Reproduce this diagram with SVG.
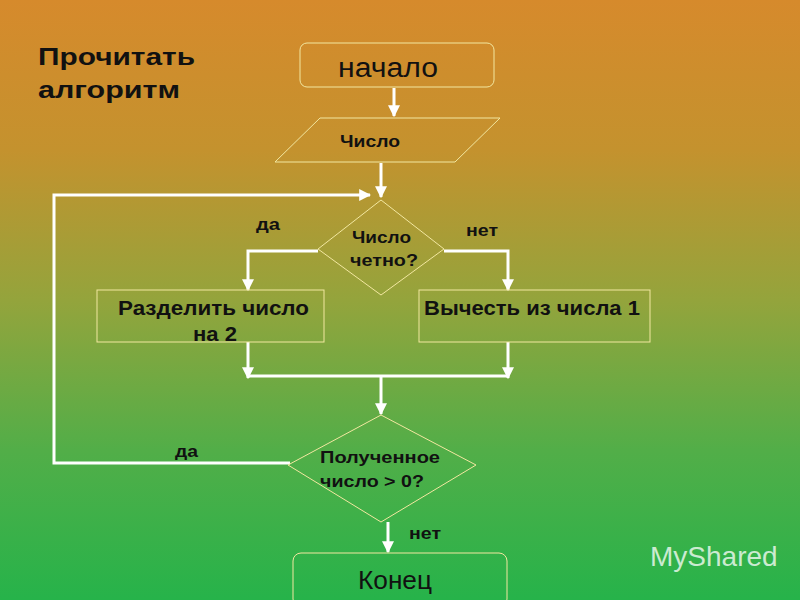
<svg xmlns="http://www.w3.org/2000/svg" width="800" height="600" viewBox="0 0 800 600">
<defs>
<linearGradient id="bg" x1="0" y1="0" x2="0" y2="1">
<stop offset="0" stop-color="#d68a2c"/>
<stop offset="0.25" stop-color="#c4922e"/>
<stop offset="0.5" stop-color="#94a43c"/>
<stop offset="0.75" stop-color="#52ae48"/>
<stop offset="1" stop-color="#26b34a"/>
</linearGradient>
<marker id="ah" viewBox="0 0 10 10" refX="9" refY="5" markerWidth="4" markerHeight="4" orient="auto" markerUnits="strokeWidth">
<path d="M0,0 L10,5 L0,10 z" fill="#fff"/>
</marker>
<style>
.sh{fill:none;stroke:#f2e7a0;stroke-width:1}
.c{fill:none;stroke:#fff;stroke-width:3}
.a{marker-end:url(#ah)}
.t{font-family:"Liberation Sans",Arial,sans-serif;fill:#111}
.b{font-weight:bold}
</style>
</defs>
<rect width="800" height="600" fill="url(#bg)"/>
<text class="t b" x="38" y="65" font-size="24" textLength="157" lengthAdjust="spacingAndGlyphs">Прочитать</text>
<text class="t b" x="38" y="98" font-size="24" textLength="142" lengthAdjust="spacingAndGlyphs">алгоритм</text>
<g id="connectors">
<line class="c a" x1="394" y1="88" x2="394" y2="116"/>
<line class="c a" x1="381" y1="163" x2="381" y2="197"/>
<polyline class="c a" points="290,463 54,463 54,195 370,195"/>
<polyline class="c a" points="318,251 248,251 248,290"/>
<polyline class="c a" points="444,251 508,251 508,290"/>
<line class="c a" x1="248" y1="342" x2="248" y2="378"/>
<line class="c a" x1="508" y1="342" x2="508" y2="378"/>
<line class="c" x1="248" y1="376" x2="508" y2="376"/>
<line class="c a" x1="381" y1="376" x2="381" y2="414"/>
<line class="c a" x1="388" y1="522" x2="388" y2="552"/>
</g>
<g id="start"><rect class="sh" x="300" y="43" width="194" height="44" rx="7"/><text class="t" x="338" y="77" font-size="27" textLength="100" lengthAdjust="spacingAndGlyphs">начало</text></g>
<g id="input"><polygon class="sh" points="320,118 500,118 455,162 275,162"/><text class="t b" x="340" y="147" font-size="17" textLength="60" lengthAdjust="spacingAndGlyphs">Число</text></g>
<g id="even"><polygon class="sh" points="381,200 444,249 381,295 318,249"/><text class="t b" x="352" y="243" font-size="17" textLength="59" lengthAdjust="spacingAndGlyphs">Число</text><text class="t b" x="350" y="266" font-size="17" textLength="68" lengthAdjust="spacingAndGlyphs">четно?</text></g>
<g id="divide"><rect class="sh" x="97" y="290" width="227" height="52"/><text class="t b" x="118" y="315" font-size="20" textLength="191" lengthAdjust="spacingAndGlyphs">Разделить число</text><text class="t b" x="193" y="341" font-size="20" textLength="44" lengthAdjust="spacingAndGlyphs">на 2</text></g>
<g id="subtract"><rect class="sh" x="419" y="290" width="231" height="52"/><text class="t b" x="424" y="315" font-size="20" textLength="216" lengthAdjust="spacingAndGlyphs">Вычесть из числа 1</text></g>
<g id="check"><polygon class="sh" points="381,415 476,465 381,522 288,465"/><text class="t b" x="320" y="463" font-size="17" textLength="120" lengthAdjust="spacingAndGlyphs">Полученное</text><text class="t b" x="320" y="487" font-size="17" textLength="104" lengthAdjust="spacingAndGlyphs">число &gt; 0?</text></g>
<g id="end"><rect class="sh" x="293" y="553" width="214" height="54" rx="8"/><text class="t" x="358" y="589" font-size="26" textLength="74" lengthAdjust="spacingAndGlyphs">Конец</text></g>
<g id="labels">
<text class="t b" x="256" y="230" font-size="17" textLength="24" lengthAdjust="spacingAndGlyphs">да</text>
<text class="t b" x="466" y="236" font-size="17" textLength="32" lengthAdjust="spacingAndGlyphs">нет</text>
<text class="t b" x="175" y="457" font-size="17" textLength="23" lengthAdjust="spacingAndGlyphs">да</text>
<text class="t b" x="409" y="539" font-size="17" textLength="32" lengthAdjust="spacingAndGlyphs">нет</text>
</g>
<text x="650" y="566" font-family="'Liberation Sans',Arial,sans-serif" font-size="28" fill="#fff" fill-opacity="0.75">MyShared</text>
</svg>
